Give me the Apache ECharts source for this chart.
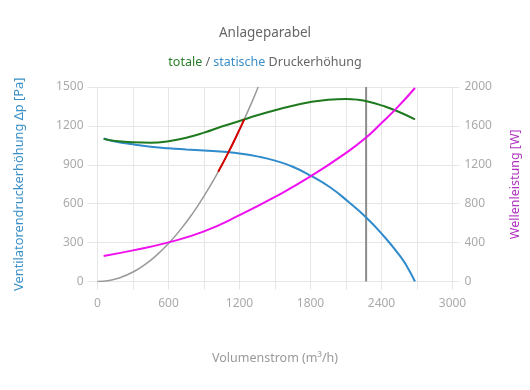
<!DOCTYPE html>
<html>
<head>
<meta charset="utf-8">
<script src="https://cdn.jsdelivr.net/npm/echarts@6/dist/echarts.min.js"></script>
<style>
html,body{margin:0;padding:0;background:#fff;}
#chart{width:530px;height:390px;}
</style>
</head>
<body>
<div id="chart"></div>
<script>
// Volumenstrom (m³/h) vs values
var staticPressure = [[52,1103],[150,1080],[300,1058],[450,1040],[600,1027],[750,1018],[900,1010],[1100,998],[1200,988],[1350,965],[1500,932],[1650,885],[1800,817],[1965,727],[2120,615],[2275,490],[2415,355],[2556,198],[2620,108],[2683,0]];
var totalPressure = [[52,1100],[150,1083],[300,1074],[450,1071],[600,1082],[750,1108],[900,1148],[1050,1195],[1200,1238],[1350,1282],[1500,1321],[1650,1355],[1800,1384],[1950,1402],[2100,1408],[2200,1402],[2300,1385],[2400,1358],[2530,1315],[2683,1250]];
var shaftPower = [[52,262],[300,320],[600,402],[900,515],[1200,682],[1500,870],[1800,1080],[2100,1322],[2270,1480],[2400,1630],[2530,1785],[2683,1990]];
var systemCurve = [[0,0],[100,8],[200,33],[300,73],[400,130],[500,203],[600,293],[700,398],[800,520],[900,659],[1000,813],[1100,984],[1200,1171],[1300,1374],[1358,1500]];
var operatingRange = [[1020,846],[1100,984],[1200,1171],[1240,1250]];
var designFlow = [[2270,0],[2270,1500]];
var xTicks = [0,600,1200,1800,2400,3000];

var FONT = 'Noto Sans';
var chart = echarts.init(document.getElementById('chart'), null, {renderer:'canvas'});
var plain = function(v){return String(v);};
var option = {
  animation:false,
  textStyle:{fontFamily:FONT},
  title:[
    {text:'Anlageparabel', left:'center', top:21, textStyle:{fontSize:13.5, fontWeight:'normal', color:'#666', fontFamily:FONT}},
    {text:'{g|totale} {d|/} {b|statische} {d|Druckerhöhung}', left:'center', top:51,
     textStyle:{fontSize:12.5, fontWeight:'normal', fontFamily:FONT,
       rich:{g:{color:'#2a7d2a',fontSize:12.5,fontFamily:FONT},b:{color:'#3a8fc8',fontSize:12.5,fontFamily:FONT},d:{color:'#666',fontSize:12.5,fontFamily:FONT}}}}
  ],
  grid:{left:97.5, right:77.5, top:87, bottom:108.5, containLabel:false},
  xAxis:{
    type:'value', min:0, max:3000, interval:300,
    name:'Volumenstrom (m³/h)', nameLocation:'middle', nameGap:70,
    nameTextStyle:{color:'#999', fontSize:12.5, fontFamily:FONT},
    axisLine:{show:false},
    axisTick:{show:true, length:8, lineStyle:{color:'#e6e6e6'}},
    axisLabel:{color:'#aaa', fontSize:12, margin:16, fontFamily:FONT,
      formatter:function(v){return xTicks.indexOf(v)>=0 ? String(v) : '';}},
    splitLine:{show:true, lineStyle:{color:'#e6e6e6'}}
  },
  yAxis:[
    {type:'value', min:0, max:1500, interval:300, position:'left',
     name:'Ventilatorendruckerhöhung Δp [Pa]', nameLocation:'middle', nameGap:72,
     nameTextStyle:{color:'#3a8fc8', fontSize:12.8, fontFamily:FONT},
     axisLine:{show:false},
     axisTick:{show:true, length:10, lineStyle:{color:'#e6e6e6'}},
     axisLabel:{color:'#aaa', fontSize:12, margin:14, fontFamily:FONT, formatter:plain},
     splitLine:{show:true, lineStyle:{color:'#e6e6e6'}}},
    {type:'value', min:0, max:2000, interval:400, position:'right',
     name:'Wellenleistung [W]', nameLocation:'middle', nameGap:56,
     nameTextStyle:{color:'#b030c0', fontSize:12.5, fontFamily:FONT},
     axisLine:{show:true, lineStyle:{color:'#e6e6e6'}},
     axisTick:{show:true, length:7, lineStyle:{color:'#e6e6e6'}},
     axisLabel:{color:'#aaa', fontSize:12, margin:12, fontFamily:FONT, formatter:plain},
     splitLine:{show:false}}
  ],
  series:[
    {type:'line', name:'Anlageparabel', data:systemCurve, smooth:true, showSymbol:false, yAxisIndex:0,
     lineStyle:{color:'#999', width:1.5}, z:2},
    {type:'line', name:'Betriebsbereich', data:operatingRange, smooth:true, showSymbol:false, yAxisIndex:0,
     lineStyle:{color:'#d40000', width:2}, z:5},
    {type:'line', name:'Auslegung', data:designFlow, showSymbol:false, yAxisIndex:0,
     lineStyle:{color:'#8c8c8c', width:2}, z:3},
    {type:'line', name:'statische Druckerhöhung', data:staticPressure, smooth:true, showSymbol:false, yAxisIndex:0,
     lineStyle:{color:'#2f8bcb', width:2}, z:4},
    {type:'line', name:'totale Druckerhöhung', data:totalPressure, smooth:true, showSymbol:false, yAxisIndex:0,
     lineStyle:{color:'#1f7a1f', width:2}, z:4},
    {type:'line', name:'Wellenleistung', data:shaftPower, smooth:true, showSymbol:false, yAxisIndex:1,
     lineStyle:{color:'#ee10ee', width:2}, z:4}
  ]
};
chart.setOption(option);
</script>
</body>
</html>
